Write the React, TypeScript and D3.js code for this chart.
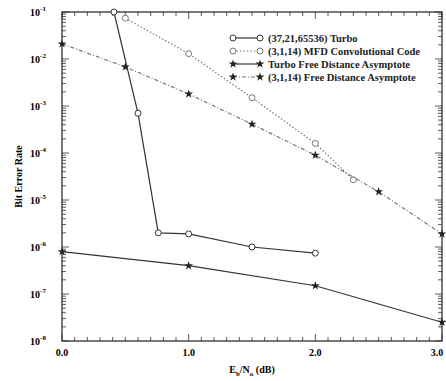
import React, { useRef, useEffect } from "react";
import * as d3 from "d3";

// Eb/No (dB) and BER values
const turboX = [0.41, 0.6, 0.76, 1.0, 1.5, 2.0];
const turboY = [1e-1, 7e-4, 2.0e-6, 1.9e-6, 1.0e-6, 7.4e-7];

const mfdX = [0.5, 1.0, 1.5, 2.0, 2.3];
const mfdY = [7.4e-2, 1.3e-2, 1.5e-3, 1.6e-4, 2.7e-5];

const turboAsymX = [0.0, 1.0, 2.0, 3.0];
const turboAsymY = [8e-7, 4e-7, 1.5e-7, 2.5e-8];

const mfdAsymX = [0.0, 0.5, 1.0, 1.5, 2.0, 2.5, 3.0];
const mfdAsymY = [2.1e-2, 6.8e-3, 1.8e-3, 4.1e-4, 9e-5, 1.5e-5, 1.9e-6];

const xTicks = [0, 1, 2, 3];
const yExps = [-1, -2, -3, -4, -5, -6, -7, -8];

const legendLabels = [
  "(37,21,65536) Turbo",
  "(3,1,14) MFD Convolutional Code",
  "Turbo Free Distance Asymptote",
  "(3,1,14) Free Distance Asymptote",
];

const App = () => {
  const svgRef = useRef(null);

  useEffect(() => {
    const width = 446;
    const height = 381;
    const margin = { top: 12, right: 4, bottom: 40, left: 62 };
    const font = "'Liberation Serif', 'Times New Roman', serif";

    const svg = d3
      .select(svgRef.current)
      .attr("width", width)
      .attr("height", height)
      .html("");

    svg.append("rect").attr("width", width).attr("height", height).attr("fill", "#fff");

    const x = d3
      .scaleLinear()
      .domain([0, 3])
      .range([margin.left, width - margin.right]);

    const y = d3
      .scaleLog()
      .domain([1e-8, 1e-1])
      .range([height - margin.bottom, margin.top]);

    const x0 = x(0), x1 = x(3), y0 = y(1e-8), y1 = y(1e-1);

    const g = svg.append("g");

    // ticks: x minor every 0.1, major every 1
    d3.range(0, 31).forEach((i) => {
      const v = i / 10;
      const len = i % 10 === 0 ? 7 : 4;
      g.append("line").attr("x1", x(v)).attr("x2", x(v)).attr("y1", y0).attr("y2", y0 - len)
        .attr("stroke", "#333").attr("stroke-width", 0.8);
      g.append("line").attr("x1", x(v)).attr("x2", x(v)).attr("y1", y1).attr("y2", y1 + len)
        .attr("stroke", "#333").attr("stroke-width", 0.8);
    });

    // ticks: y log minors
    yExps.forEach((e) => {
      for (let m = 1; m <= 9; m++) {
        const v = m * Math.pow(10, e);
        if (v > 1e-1 || v < 1e-8) continue;
        const len = m === 1 ? 7 : 4;
        g.append("line").attr("x1", x0).attr("x2", x0 + len).attr("y1", y(v)).attr("y2", y(v))
          .attr("stroke", "#333").attr("stroke-width", 0.8);
        g.append("line").attr("x1", x1).attr("x2", x1 - len).attr("y1", y(v)).attr("y2", y(v))
          .attr("stroke", "#333").attr("stroke-width", 0.8);
      }
    });

    g.append("rect")
      .attr("x", x0).attr("y", y1).attr("width", x1 - x0).attr("height", y0 - y1)
      .attr("fill", "none").attr("stroke", "#222").attr("stroke-width", 1.2);

    // tick labels (last one sits at the right edge, as in the original)
    xTicks.forEach((v) => {
      g.append("text").attr("x", Math.min(x(v), width - 9)).attr("y", y0 + 15)
        .attr("text-anchor", "middle").attr("font-family", font).attr("font-weight", "bold")
        .attr("font-size", 10).text(v.toFixed(1));
    });

    yExps.forEach((e) => {
      const t = g.append("text").attr("x", x0 - 24).attr("y", y(Math.pow(10, e)) + 4)
        .attr("text-anchor", "middle").attr("font-family", font).attr("font-weight", "bold")
        .attr("font-size", 10);
      t.append("tspan").text("10");
      t.append("tspan").attr("dy", -5).attr("font-size", 7).text(String(e));
    });

    // axis titles
    g.append("text")
      .attr("transform", `translate(22,${(y0 + y1) / 2}) rotate(-90)`)
      .attr("text-anchor", "middle").attr("font-family", font).attr("font-weight", "bold")
      .attr("font-size", 10).text("Bit Error Rate");

    const xl = g.append("text").attr("x", (x0 + x1) / 2).attr("y", y0 + 32)
      .attr("text-anchor", "middle").attr("font-family", font).attr("font-weight", "bold")
      .attr("font-size", 10);
    xl.append("tspan").text("E");
    xl.append("tspan").attr("dy", 3).attr("font-size", 7).text("b");
    xl.append("tspan").attr("dy", -3).text("/N");
    xl.append("tspan").attr("dy", 3).attr("font-size", 7).text("o");
    xl.append("tspan").attr("dy", -3).text(" (dB)");

    const series = [
      { xs: turboX, ys: turboY, color: "#333", dash: null, width: 1.2, mark: "circle" },
      { xs: mfdX, ys: mfdY, color: "#777", dash: "1.5,2", width: 1.2, mark: "circle" },
      { xs: turboAsymX, ys: turboAsymY, color: "#333", dash: null, width: 1.2, mark: "star" },
      { xs: mfdAsymX, ys: mfdAsymY, color: "#777", dash: "4,2,1,2", width: 1.2, mark: "star" },
    ];

    const line = d3.line().x((d) => x(d[0])).y((d) => y(d[1]));
    const star = d3.symbol().type(d3.symbolStar).size(24);

    const drawMark = (sel, s, px, py) => {
      if (s.mark === "circle") {
        sel.append("circle").attr("cx", px).attr("cy", py).attr("r", 3)
          .attr("fill", "#fff").attr("stroke", s.color).attr("stroke-width", 1);
      } else {
        sel.append("path").attr("d", star()).attr("transform", `translate(${px},${py})`)
          .attr("fill", "#222");
      }
    };

    series.forEach((s) => {
      const pts = s.xs.map((v, i) => [v, s.ys[i]]);
      g.append("path").attr("d", line(pts)).attr("fill", "none")
        .attr("stroke", s.color).attr("stroke-width", s.width)
        .attr("stroke-dasharray", s.dash);
      pts.forEach((p) => drawMark(g, s, x(p[0]), y(p[1])));
    });

    // legend
    const lx = 233, ly = 38, step = 13;
    legendLabels.forEach((lab, i) => {
      const s = series[i];
      const yy = ly + i * step;
      g.append("line").attr("x1", lx).attr("x2", lx + 27).attr("y1", yy).attr("y2", yy)
        .attr("stroke", s.color).attr("stroke-width", 1.2).attr("stroke-dasharray", s.dash);
      drawMark(g, s, lx, yy);
      drawMark(g, s, lx + 27, yy);
      g.append("text").attr("x", lx + 35).attr("y", yy + 3.5)
        .attr("font-family", font).attr("font-weight", "bold").attr("font-size", 10.5)
        .attr("fill", "#222").text(lab);
    });
  }, []);

  return <svg ref={svgRef} style={{ position: "absolute", left: 0, top: 0 }} />;
};

export default App;
